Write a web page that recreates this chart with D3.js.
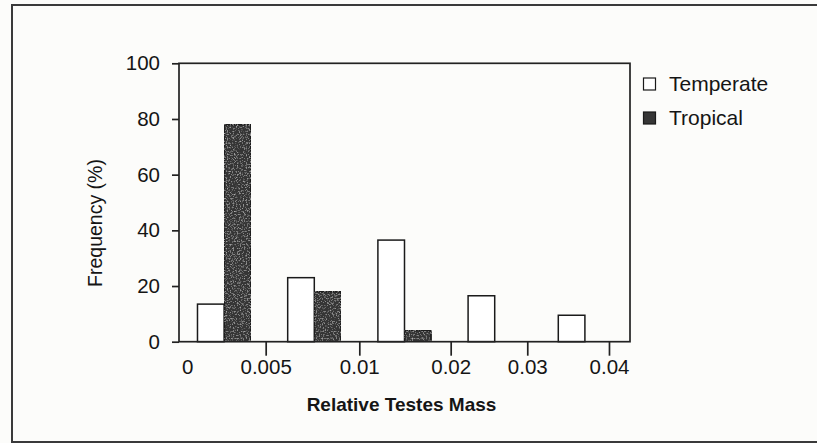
<!DOCTYPE html>
<html>
<head>
<meta charset="utf-8">
<script src="https://cdn.jsdelivr.net/npm/d3@7"></script>
<style>
  html, body { margin: 0; padding: 0; background: #fcfcfa; }
  svg { display: block; }
  text { font-family: "Liberation Sans", Arial, Helvetica, sans-serif; fill: #151515; }
</style>
</head>
<body>
<svg id="chart" width="817" height="443"></svg>
<script>
// Histogram bins of relative testes mass
const bins = ["0-0.005", "0.005-0.01", "0.01-0.02", "0.02-0.03", "0.03-0.04"];
const seriesNames = ["Temperate", "Tropical"];
const temperate = [13.5, 23, 36.5, 16.5, 9.5];
const tropical = [78, 18, 4, 0, 0];

// Axis ticks: y in percent, x labels placed along the bin index axis
const yTicks = [0, 20, 40, 60, 80, 100];
const xTickLabels = ["0", "0.005", "0.01", "0.02", "0.03", "0.04"];
const xTickAt = [0.09, 0.961, 1.999, 3.012, 3.861, 4.767];

const W = 817, H = 443;
const plot = { left: 179, right: 630, top: 63.3, bottom: 341.7 };
const colors = { Temperate: "#ffffff", Tropical: "#363636" };
const font = "'Liberation Sans', Arial, Helvetica, sans-serif";

const svg = d3.select("#chart");
const defs = svg.append("defs");

// faint light speckle over the dark fill
const grain = defs.append("filter").attr("id", "grain")
  .attr("x", 0).attr("y", 0).attr("width", "100%").attr("height", "100%");
grain.append("feTurbulence").attr("type", "fractalNoise")
  .attr("baseFrequency", 0.7).attr("numOctaves", 2).attr("seed", 7).attr("result", "noise");
grain.append("feColorMatrix").attr("in", "noise").attr("type", "matrix")
  .attr("values", "0 0 0 0 0.6  0 0 0 0 0.6  0 0 0 0 0.6  0 0 0 2.0 -1.05")
  .attr("result", "spots");
grain.append("feComposite").attr("in", "spots").attr("in2", "SourceAlpha")
  .attr("operator", "in").attr("result", "clipped");
const merge = grain.append("feMerge");
merge.append("feMergeNode").attr("in", "SourceGraphic");
merge.append("feMergeNode").attr("in", "clipped");

// outer page frame
svg.append("rect")
  .attr("x", 12).attr("y", 5).attr("width", W + 20).attr("height", 437)
  .attr("fill", "none").attr("stroke", "#3a3a3a").attr("stroke-width", 2);

// scales
const y = d3.scaleLinear().domain([0, 100]).range([plot.bottom, plot.top]);
const xBin = d3.scaleBand().domain(bins).range([plot.left, plot.right])
  .paddingInner(0.41).paddingOuter(0.205);
const xSeries = d3.scaleBand().domain(seriesNames).range([0, xBin.bandwidth()]);
const xIdx = d3.scaleLinear().domain([0, bins.length]).range([plot.left, plot.right]);

const rows = bins.map((b, i) => ({ bin: b, Temperate: temperate[i], Tropical: tropical[i] }));

// bars
const groups = svg.append("g").selectAll("g").data(rows).join("g")
  .attr("transform", d => `translate(${xBin(d.bin)},0)`);
groups.selectAll("rect")
  .data(d => seriesNames.map(s => ({ s, v: d[s] })).filter(e => e.v > 0))
  .join("rect")
  .attr("x", d => xSeries(d.s))
  .attr("y", d => y(d.v))
  .attr("width", xSeries.bandwidth())
  .attr("height", d => y(0) - y(d.v))
  .attr("fill", d => colors[d.s])
  .attr("filter", d => d.s === "Tropical" ? "url(#grain)" : null)
  .attr("stroke", "#1a1a1a")
  .attr("stroke-width", 1.5);

// plot frame
svg.append("rect")
  .attr("x", plot.left).attr("y", plot.top)
  .attr("width", plot.right - plot.left).attr("height", plot.bottom - plot.top)
  .attr("fill", "none").attr("stroke", "#222").attr("stroke-width", 1.7);

// y axis
const yAxis = svg.append("g").attr("transform", `translate(${plot.left},0)`)
  .call(d3.axisLeft(y).tickValues(yTicks).tickSize(7).tickPadding(12));
yAxis.select(".domain").remove();
yAxis.selectAll("line").attr("stroke", "#222").attr("stroke-width", 1.7);
yAxis.selectAll("text").attr("font-size", 20.5).attr("fill", "#151515")
  .style("font-family", font);

// x axis
const xAxis = svg.append("g").attr("transform", `translate(0,${plot.bottom})`)
  .call(d3.axisBottom(xIdx).tickValues(xTickAt).tickSize(14).tickPadding(4)
    .tickFormat((d, i) => xTickLabels[i]));
xAxis.select(".domain").remove();
xAxis.selectAll("line").attr("stroke", "#222").attr("stroke-width", 1.7)
  .attr("y2", (d, i) => i === 0 ? 0 : 14);
xAxis.selectAll("text").attr("font-size", 20.5).attr("fill", "#151515")
  .style("font-family", font);

// axis titles
svg.append("text")
  .attr("x", 401.5).attr("y", 410.5)
  .attr("text-anchor", "middle")
  .attr("font-size", 19).attr("font-weight", "bold")
  .text("Relative Testes Mass");

svg.append("text")
  .attr("transform", "translate(101.5,223) rotate(-90)")
  .attr("text-anchor", "middle")
  .attr("font-size", 19.5)
  .text("Frequency (%)");

// legend
const legend = svg.append("g").attr("transform", "translate(643.5,78)");
const items = legend.selectAll("g").data(seriesNames).join("g")
  .attr("transform", (d, i) => `translate(0,${i * 34})`);
items.append("rect")
  .attr("width", 12).attr("height", 12)
  .attr("fill", d => colors[d])
  .attr("stroke", "#1a1a1a").attr("stroke-width", 1.2);
items.append("text")
  .attr("x", 25.5).attr("y", 12.5)
  .attr("font-size", 21)
  .text(d => d);
</script>
</body>
</html>
